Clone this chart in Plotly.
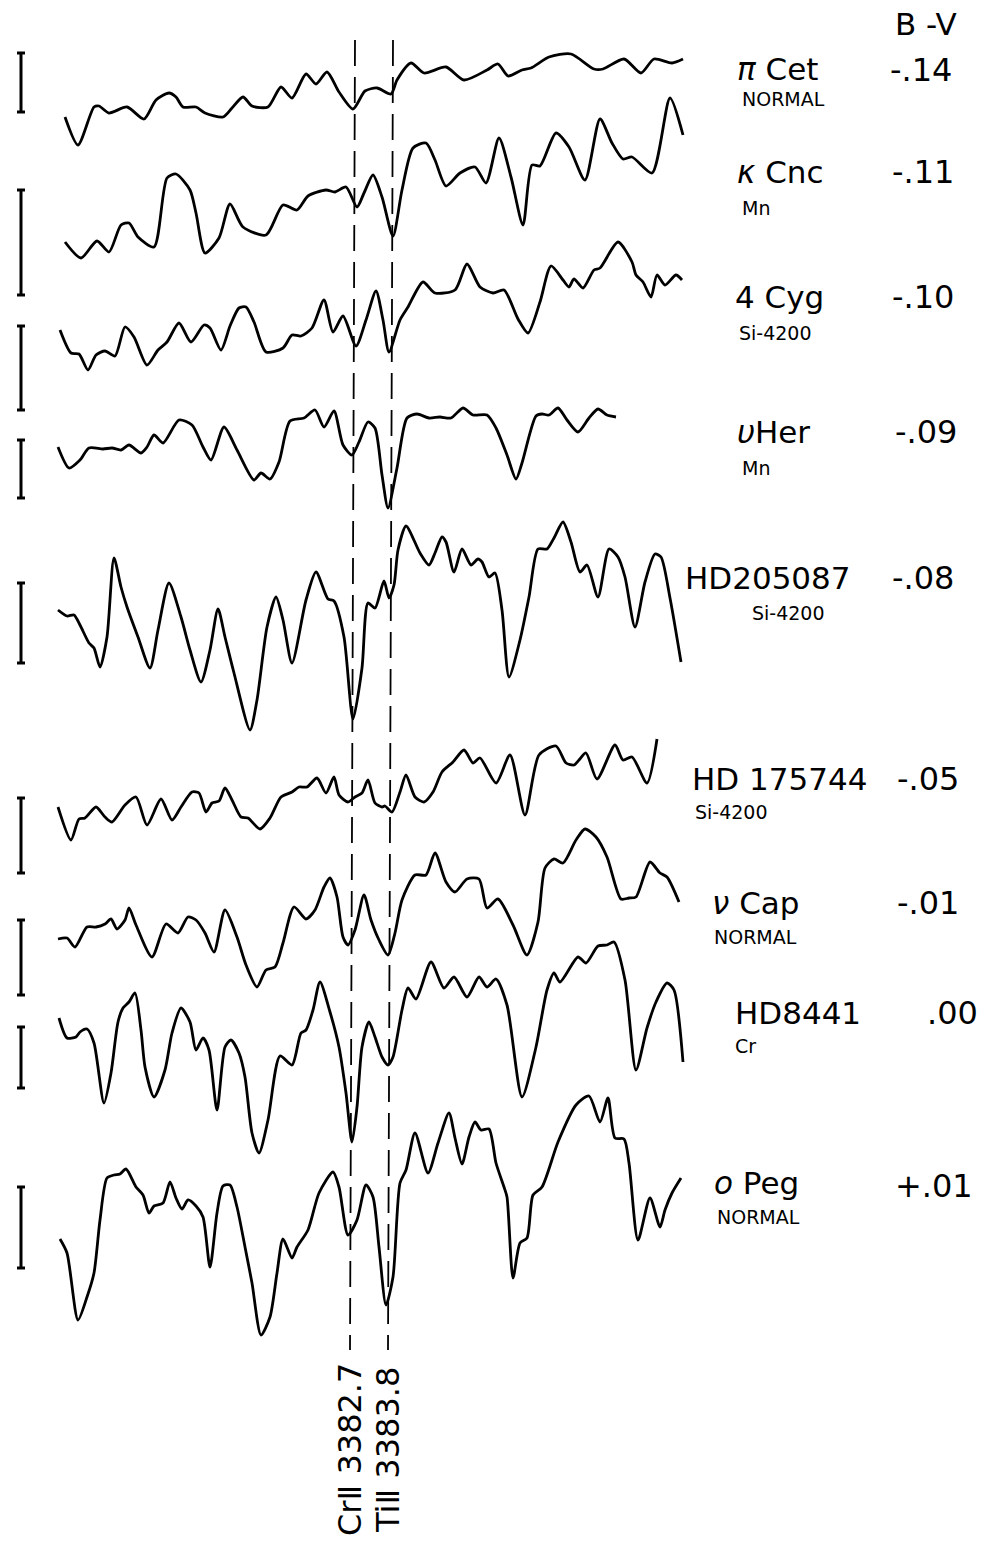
import plotly.graph_objects as go

stars = ["π Cet", "κ Cnc", "4 Cyg", "υ Her", "HD205087", "HD175744", "ν Cap", "HD8441", "ο Peg"]
star_labels = ["<i>π</i> Cet", "<i>κ</i> Cnc", "4 Cyg", "<i>υ</i>Her", "HD205087", "HD 175744",
               "<i>ν</i> Cap", "HD8441", "<i>ο</i> Peg"]
peculiarity = ["NORMAL", "Mn", "Si-4200", "Mn", "Si-4200", "Si-4200", "NORMAL", "Cr", "NORMAL"]
b_minus_v = ["-.14", "-.11", "-.10", "-.09", "-.08", "-.05", "-.01", ".00", "+.01"]

pi_cet_x = [65, 78, 94, 99, 109, 127, 144, 156, 169, 176, 183, 196, 205, 223, 232, 243, 252, 268, 281, 292,
            306, 316, 327, 339, 353, 365, 377, 391, 397, 411, 424, 446, 464, 487, 498, 508, 522, 531, 549,
            571, 594, 603, 624, 641, 654, 672, 683]
pi_cet_y = [117, 145, 107, 106, 113, 107, 119, 100, 93, 97, 107, 107, 113, 117, 108, 97, 106, 107, 87, 98,
            74, 84, 72, 92, 109, 91, 88, 94, 80, 63, 73, 67, 80, 70, 64, 76, 70, 68, 57,
            54, 69, 69, 59, 73, 59, 63, 59]

kap_cnc_x = [65, 81, 97, 109, 121, 129, 138, 154, 167, 176, 190, 196, 205, 219, 230, 243, 266, 283, 297,
             308, 326, 335, 346, 357, 364, 373, 382, 393, 402, 413, 426, 435, 446, 460, 475, 486, 499, 511,
             523, 532, 540, 556, 569, 585, 600, 612, 623, 632, 652, 670, 683]
kap_cnc_y = [242, 258, 241, 252, 225, 223, 237, 247, 178, 174, 190, 213, 253, 238, 204, 227, 235, 205, 210,
             196, 190, 192, 187, 207, 193, 175, 197, 236, 190, 148, 143, 160, 186, 173, 167, 183, 138, 177,
             225, 165, 166, 133, 147, 180, 119, 143, 159, 157, 173, 98, 135]

cyg4_x = [60, 71, 79, 88, 96, 105, 115, 125, 134, 147, 158, 167, 179, 191, 204, 210, 221, 230, 239, 246,
          254, 266, 283, 292, 301, 312, 324, 333, 343, 356, 366, 376, 383, 389, 400, 408, 423, 435, 455,
          467, 480, 493, 504, 518, 528, 540, 551, 563, 569, 574, 583, 594, 600, 618, 632, 636, 643, 651,
          657, 665, 676, 682]
cyg4_y = [330, 353, 354, 370, 355, 351, 356, 327, 337, 365, 350, 342, 323, 342, 325, 328, 350, 326, 308, 307,
          322, 352, 348, 335, 336, 328, 300, 332, 316, 346, 320, 291, 320, 352, 320, 307, 282, 293, 290,
          264, 287, 293, 290, 319, 333, 302, 266, 280, 287, 279, 288, 270, 268, 242, 262, 275, 282, 297,
          275, 285, 275, 280]

ups_her_x = [58, 69, 80, 89, 103, 112, 121, 129, 141, 147, 154, 163, 179, 192, 203, 211, 224, 237, 254,
             261, 270, 279, 290, 304, 315, 324, 334, 343, 352, 359, 368, 375, 382, 388, 397, 407, 417, 429,
             440, 451, 463, 473, 487, 496, 507, 516, 522, 536, 542, 549, 558, 567, 578, 589, 598, 607, 616]
ups_her_y = [447, 468, 460, 448, 449, 448, 450, 445, 453, 447, 435, 443, 420, 425, 447, 460, 427, 450, 480,
             473, 479, 462, 421, 418, 410, 427, 411, 445, 455, 442, 422, 428, 475, 508, 468, 418, 414, 418,
             417, 418, 408, 415, 415, 428, 455, 479, 463, 416, 414, 415, 408, 420, 432, 418, 409, 415, 417]

hd205087_x = [58, 67, 74, 80, 89, 94, 100, 107, 114, 121, 127, 138, 150, 158, 169, 181, 190, 201, 210, 218,
              225, 234, 250, 257, 267, 276, 283, 292, 306, 316, 328, 334, 344, 353, 362, 368, 375, 384, 389,
              394, 398, 406, 420, 429, 435, 442, 446, 454, 462, 471, 478, 482, 489, 495, 502, 509, 520, 529,
              538, 547, 554, 563, 571, 580, 587, 598, 609, 618, 625, 635, 645, 655, 661, 670, 681]
hd205087_y = [610, 616, 615, 625, 643, 648, 667, 637, 558, 587, 607, 637, 668, 630, 583, 617, 650, 682, 650,
              609, 637, 673, 730, 700, 627, 597, 620, 663, 600, 572, 599, 601, 637, 719, 668, 603, 608, 581,
              598, 585, 550, 526, 553, 565, 553, 537, 542, 572, 549, 565, 559, 562, 577, 573, 610, 677, 640,
              597, 549, 549, 538, 522, 542, 572, 565, 597, 549, 557, 577, 627, 582, 554, 557, 598, 662]

hd175744_x = [58, 71, 79, 85, 96, 105, 112, 125, 136, 147, 161, 172, 181, 192, 199, 206, 212, 219, 225,
              232, 241, 248, 260, 270, 281, 292, 299, 307, 317, 326, 334, 339, 348, 355, 362, 368, 375, 382,
              385, 392, 400, 406, 415, 424, 433, 442, 453, 464, 473, 480, 496, 510, 525, 539, 556, 566, 574,
              579, 586, 597, 615, 623, 632, 647, 657]
hd175744_y = [807, 840, 819, 818, 807, 817, 822, 805, 797, 825, 799, 820, 807, 792, 793, 812, 803, 801, 788,
              800, 817, 818, 829, 818, 797, 792, 787, 787, 778, 793, 777, 795, 802, 797, 793, 780, 803, 807,
              806, 812, 792, 775, 797, 802, 792, 772, 762, 750, 763, 758, 783, 755, 815, 755, 746, 763, 765,
              760, 753, 779, 745, 760, 757, 783, 739]

nu_cap_x = [58, 67, 75, 87, 96, 105, 111, 117, 125, 129, 136, 152, 166, 178, 188, 196, 205, 214, 225, 237,
            246, 257, 266, 275, 283, 294, 306, 315, 324, 330, 337, 343, 348, 355, 364, 371, 379, 388, 395,
            402, 415, 426, 435, 446, 455, 467, 479, 487, 498, 513, 527, 538, 545, 554, 563, 576, 585, 596,
            607, 621, 629, 636, 650, 660, 667, 679]
nu_cap_y = [939, 938, 947, 927, 927, 924, 919, 929, 920, 908, 925, 957, 924, 933, 917, 920, 933, 952, 910, 937,
            965, 987, 970, 967, 943, 907, 919, 910, 887, 878, 897, 937, 945, 930, 895, 920, 940, 955, 933,
            900, 875, 875, 853, 882, 892, 879, 879, 908, 899, 925, 955, 922, 868, 859, 863, 840, 829, 837,
            857, 899, 898, 897, 862, 873, 877, 902]

hd8441_x = [59, 67, 76, 80, 87, 94, 104, 111, 118, 123, 129, 135, 141, 145, 154, 165, 172, 181, 190, 196,
            203, 209, 217, 225, 231, 239, 245, 252, 259, 268, 280, 292, 301, 306, 313, 320, 330, 339, 346,
            352, 357, 362, 369, 375, 382, 388, 393, 402, 408, 416, 431, 444, 454, 467, 479, 487, 496, 507,
            522, 536, 547, 554, 560, 578, 586, 598, 607, 614, 625, 636, 647, 656, 667, 674, 683]
hd8441_y = [1018, 1038, 1037, 1032, 1029, 1043, 1103, 1073, 1022, 1008, 1002, 993, 1030, 1067, 1097, 1070,
            1033, 1008, 1022, 1050, 1038, 1050, 1110, 1047, 1040, 1053, 1077, 1133, 1153, 1120, 1056, 1065,
            1033, 1030, 1010, 982, 1012, 1047, 1093, 1142, 1107, 1047, 1022, 1037, 1057, 1065, 1057, 1010,
            988, 999, 962, 988, 977, 997, 977, 987, 979, 1005, 1097, 1047, 990, 973, 982, 957, 963, 946,
            945, 942, 980, 1070, 1028, 1002, 983, 990, 1062]

omi_peg_x = [60, 67, 78, 87, 94, 100, 107, 114, 120, 126, 136, 143, 149, 154, 163, 170, 176, 182, 188, 196,
             203, 210, 217, 223, 230, 237, 245, 252, 261, 270, 277, 283, 292, 297, 308, 319, 333, 339, 348,
             357, 366, 373, 379, 386, 393, 400, 406, 415, 428, 438, 449, 455, 462, 469, 475, 481, 489, 496,
             504, 507, 513, 520, 527, 533, 542, 558, 576, 589, 600, 608, 615, 624, 629, 638, 650, 660, 665,
             672, 681]
omi_peg_y = [1239, 1253, 1320, 1297, 1273, 1220, 1178, 1175, 1174, 1169, 1187, 1195, 1213, 1206, 1203, 1182,
             1198, 1209, 1200, 1206, 1217, 1267, 1213, 1186, 1185, 1207, 1247, 1283, 1335, 1317, 1273, 1239,
             1258, 1247, 1230, 1193, 1172, 1187, 1235, 1220, 1185, 1197, 1247, 1305, 1277, 1183, 1170, 1133,
             1173, 1143, 1113, 1138, 1164, 1137, 1122, 1130, 1129, 1163, 1187, 1197, 1278, 1243, 1238, 1195,
             1187, 1142, 1105, 1096, 1122, 1098, 1138, 1139, 1163, 1240, 1198, 1227, 1210, 1193, 1178]

tracings_x = [pi_cet_x, kap_cnc_x, cyg4_x, ups_her_x, hd205087_x, hd175744_x, nu_cap_x, hd8441_x, omi_peg_x]
tracings_y = [pi_cet_y, kap_cnc_y, cyg4_y, ups_her_y, hd205087_y, hd175744_y, nu_cap_y, hd8441_y, omi_peg_y]

# intensity scale bars (top, bottom) for each tracing
scale_top = [53, 190, 326, 440, 583, 798, 920, 1027, 1187]
scale_bottom = [112, 295, 410, 498, 663, 873, 995, 1088, 1268]

# line identifications
line_names = ["CrⅡ 3382.7", "TiⅡ 3383.8"]
line_top_x = [355, 393]
line_bottom_x = [350, 388]

# label placement (layout only)
name_pos = [(735, 69), (735, 172), (733, 297), (735, 432), (683, 578), (690, 779), (710, 903), (733, 1013), (712, 1183)]
sub_pos = [(740, 99), (740, 208), (737, 333), (740, 468), (750, 613), (693, 812), (712, 937), (733, 1046), (715, 1217)]
val_pos = [(888, 70), (890, 172), (890, 297), (893, 432), (890, 578), (895, 779), (895, 903), (925, 1013), (893, 1186)]

FONT = "DejaVu Sans"
fig = go.Figure()

for xs, ys, nm in zip(tracings_x, tracings_y, stars):
    fig.add_trace(go.Scatter(x=xs, y=ys, mode="lines", name=nm,
                             line=dict(color="black", width=2.8, shape="spline", smoothing=0.7),
                             hoverinfo="skip"))

# scale bars with end caps
bx, by = [], []
for t, b in zip(scale_top, scale_bottom):
    bx += [21, 21, None, 17, 25, None, 17, 25, None]
    by += [t, b, None, t, t, None, b, b, None]
fig.add_trace(go.Scatter(x=bx, y=by, mode="lines", line=dict(color="black", width=3),
                         hoverinfo="skip", showlegend=False))

# dashed identification lines
for x0, x1 in zip(line_top_x, line_bottom_x):
    fig.add_trace(go.Scatter(x=[x0, x1], y=[40, 1350], mode="lines",
                             line=dict(color="black", width=1.8, dash="26px,11px"),
                             hoverinfo="skip", showlegend=False))

ann = []
ann.append(dict(x=893, y=24, text="B -V", showarrow=False, xanchor="left", yanchor="middle",
                font=dict(family=FONT, size=31, color="black")))
for i in range(len(stars)):
    ann.append(dict(x=name_pos[i][0], y=name_pos[i][1], text=star_labels[i], showarrow=False,
                    xanchor="left", yanchor="middle", font=dict(family=FONT, size=31, color="black")))
    ann.append(dict(x=sub_pos[i][0], y=sub_pos[i][1], text=peculiarity[i], showarrow=False,
                    xanchor="left", yanchor="middle", font=dict(family=FONT, size=19, color="black")))
    ann.append(dict(x=val_pos[i][0], y=val_pos[i][1], text=b_minus_v[i], showarrow=False,
                    xanchor="left", yanchor="middle", font=dict(family=FONT, size=32, color="black")))
for lx, nm in zip(line_bottom_x, line_names):
    ann.append(dict(x=lx, y=1450, text=nm, showarrow=False, textangle=-90,
                    xanchor="center", yanchor="middle", font=dict(family=FONT, size=32, color="black")))

fig.update_layout(
    width=981, height=1554, autosize=False,
    margin=dict(l=0, r=0, t=0, b=0),
    paper_bgcolor="white", plot_bgcolor="white",
    showlegend=False,
    annotations=ann,
    xaxis=dict(range=[0, 981], visible=False, fixedrange=True),
    yaxis=dict(range=[1554, 0], visible=False, fixedrange=True),
)

fig.write_html("out.html")
